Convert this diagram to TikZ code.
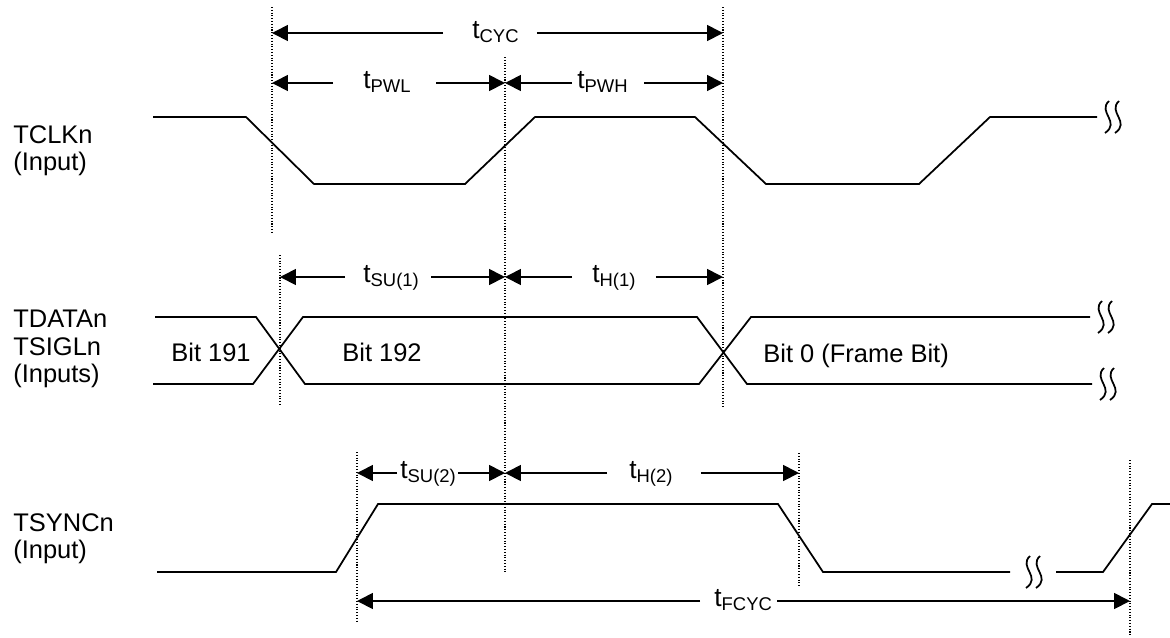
\documentclass[tikz,border=0pt]{standalone}
\usepackage{fontspec}
\setmainfont{Liberation Sans}
\usetikzlibrary{arrows.meta,calc}

\newcommand{\tsub}[1]{t\raisebox{-2.8pt}{\fontsize{10.5}{10.5}\selectfont #1}}

\begin{document}
\begin{tikzpicture}[x=0.02cm, y=-0.02cm,
    wave/.style={line width=1pt},
    guide/.style={densely dotted, line width=0.6pt},
    dimarrow/.style={line width=1pt, -{Triangle[length=9pt, width=9pt]}},
    tlabel/.style={anchor=base west, inner sep=0pt, font=\fontsize{15}{16}\selectfont},
    siglabel/.style={anchor=north west, align=left, inner sep=0pt, font=\fontsize{14.5}{15.5}\selectfont},
    bitlabel/.style={anchor=base west, inner sep=0pt, font=\fontsize{14.5}{16}\selectfont},
    brk/.pic={\draw[line width=1pt] (-3,-16) .. controls (-15,-5) and (9,5) .. (-7,16);
              \draw[line width=1pt] (7,-16) .. controls (-5,-5) and (19,5) .. (3,16);}]
    \useasboundingbox (0,0) rectangle (1170,637);

    % Guide lines
    \coordinate (g1t) at (272,7);   \coordinate (g1b) at (272,233);
    \coordinate (g1ct) at (280,255); \coordinate (g1cb) at (280,405);
    \coordinate (g2t) at (505,57);  \coordinate (g2b) at (505,572);
    \coordinate (g3t) at (723,7);   \coordinate (g3b) at (723,407);
    \coordinate (g4t) at (357,452); \coordinate (g4b) at (357,623);
    \coordinate (g5t) at (799,453); \coordinate (g5b) at (799,587);
    \coordinate (g6t) at (1130,460); \coordinate (g6b) at (1130,637);
    \draw[guide] (g1t) -- (g1b);
    \draw[guide] (g1ct) -- (g1cb);
    \draw[guide] (g2t) -- (g2b);
    \draw[guide] (g3t) -- (g3b);
    \draw[guide] (g4t) -- (g4b);
    \draw[guide] (g5t) -- (g5b);
    \draw[guide] (g6t) -- (g6b);

    % Signal names
    \node[siglabel] (clkname) at (13,125) {TCLKn\\(Input)};
    \node[siglabel] (dataname) at (13,310) {TDATAn\\TSIGLn\\(Inputs)};
    \node[siglabel] (syncname) at (13,513) {TSYNCn\\(Input)};

    % TCLKn
    \draw[wave] (153,117) -- (246,117) -- (314,184) -- (465,184) -- (535,117)
        -- (695,117) -- (766,184) -- (919,184) -- (990,117) -- (1097,117);
    \pic at (1112,117) {brk};

    % TDATAn / TSIGLn
    \draw[wave] (155,317) -- (256,317) -- (305,384) -- (699,384) -- (751,317) -- (1090,317);
    \draw[wave] (153,384) -- (253,384) -- (303,317) -- (697,317) -- (747,384) -- (1092,384);
    \pic at (1105,317) {brk};
    \pic at (1107,384) {brk};
    \node[bitlabel] (b191) at (171,361) {Bit 191};
    \node[bitlabel] (b192) at (342,361) {Bit 192};
    \node[bitlabel] (b0) at (763,362) {Bit 0 (Frame Bit)};

    % TSYNCn
    \draw[wave] (157,572) -- (336,572) -- (378,504) -- (778,504) -- (823,572) -- (1010,572);
    \draw[wave] (1056,572) -- (1103,572) -- (1152,504) -- (1170,504);
    \pic at (1033,572) {brk};

    % Arrow end points
    \coordinate (cycL) at (272,33);  \coordinate (cycR) at (723,33);
    \coordinate (pwlL) at (272,83);  \coordinate (pwlR) at (505,83);
    \coordinate (pwhL) at (505,83);  \coordinate (pwhR) at (723,83);
    \coordinate (su1L) at (280,277); \coordinate (su1R) at (505,277);
    \coordinate (h1L) at (505,277);  \coordinate (h1R) at (723,277);
    \coordinate (su2L) at (357,473); \coordinate (su2R) at (505,473);
    \coordinate (h2L) at (505,473);  \coordinate (h2R) at (799,473);
    \coordinate (fcL) at (357,601);  \coordinate (fcR) at (1130,601);

    % Timing labels
    \node[tlabel] (cyc) at (472,38) {\tsub{CYC}};
    \node[tlabel] (pwl) at (363,88) {\tsub{PWL}};
    \node[tlabel] (pwh) at (577,88) {\tsub{PWH}};
    \node[tlabel] (su1) at (363,282) {\tsub{SU(1)}};
    \node[tlabel] (h1) at (592,282) {\tsub{H(1)}};
    \node[tlabel] (su2) at (400,478) {\tsub{SU(2)}};
    \node[tlabel] (h2) at (629,478) {\tsub{H(2)}};
    \node[tlabel] (fcyc) at (714,606) {\tsub{FCYC}};

    % Timing arrows
    \draw[dimarrow] ($(cyc.base west)+(-29,-5)$) -- (cycL);
    \draw[dimarrow] ($(cyc.base east)+(18,-5)$) -- (cycR);
    \draw[dimarrow] ($(pwl.base west)+(-30,-5)$) -- (pwlL);
    \draw[dimarrow] ($(pwl.base east)+(25,-5)$) -- (pwlR);
    \draw[dimarrow] ($(pwh.base west)+(-5,-5)$) -- (pwhL);
    \draw[dimarrow] ($(pwh.base east)+(16,-5)$) -- (pwhR);
    \draw[dimarrow] ($(su1.base west)+(-18,-5)$) -- (su1L);
    \draw[dimarrow] ($(su1.base east)+(12,-5)$) -- (su1R);
    \draw[dimarrow] ($(h1.base west)+(-20,-5)$) -- (h1L);
    \draw[dimarrow] ($(h1.base east)+(20,-5)$) -- (h1R);
    \draw[dimarrow] ($(su2.base west)+(-3,-5)$) -- (su2L);
    \draw[dimarrow] ($(su2.base east)+(2,-5)$) -- (su2R);
    \draw[dimarrow] ($(h2.base west)+(-22,-5)$) -- (h2L);
    \draw[dimarrow] ($(h2.base east)+(28,-5)$) -- (h2R);
    \draw[dimarrow] ($(fcyc.base west)+(-14,-5)$) -- (fcL);
    \draw[dimarrow] ($(fcyc.base east)+(5,-5)$) -- (fcR);
\end{tikzpicture}
\end{document}
